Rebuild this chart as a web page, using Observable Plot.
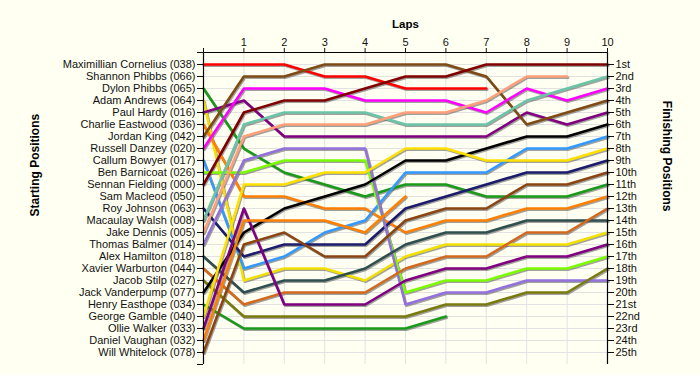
<!DOCTYPE html>
<html>
<head>
<meta charset="utf-8">
<script src="https://cdn.jsdelivr.net/npm/d3@7"></script>
<script src="https://cdn.jsdelivr.net/npm/@observablehq/plot@0.6"></script>
<style>
  html, body { margin: 0; padding: 0; background: #FFFFF2; }
</style>
</head>
<body>
<div id="chart"></div>
<script>
const drivers = [
  "Maximillian Cornelius (038)", "Shannon Phibbs (066)", "Dylon Phibbs (065)", "Adam Andrews (064)",
  "Paul Hardy (016)", "Charlie Eastwood (036)", "Jordan King (042)", "Russell Danzey (020)",
  "Callum Bowyer (017)", "Ben Barnicoat (026)", "Sennan Fielding (000)", "Sam Macleod (050)",
  "Roy Johnson (063)", "Macaulay Walsh (008)", "Jake Dennis (005)", "Thomas Balmer (014)",
  "Alex Hamilton (018)", "Xavier Warburton (044)", "Jacob Stilp (027)", "Jack Vanderpump (077)",
  "Henry Easthope (034)", "George Gamble (040)", "Ollie Walker (033)", "Daniel Vaughan (032)",
  "Will Whitelock (078)"
];

const colors = [
  "#FF0000", "#999999", "#1A9A1A", "#F2E000",
  "#800080", "#FF8000", "#7F4A14", "#FF00FF",
  "#3399FF", "#7CFC00", "#800000", "#999999",
  "#1C1C6C", "#6CC4A8", "#FFA07A", "#9370DB",
  "#2F4F4F", "#D2691E", "#7A7A10", "#000000",
  "#1A9A1A", "#FFE000", "#800080", "#FF8000",
  "#8B4513"
];

// position at lap 0..10 for each driver (in starting order); shorter = retired
const positions = [
  [1, 1, 1, 2, 2, 3, 3, 3],
  [],
  [3, 8, 10, 11, 12, 11, 11, 12, 12, 12, 11],
  [4, 19, 18, 18, 19, 17, 16, 16, 16, 16, 15],
  [5, 4, 7, 7, 7, 7, 7, 7, 5, 6, 5],
  [6, 12, 12, 13, 13, 15, 14, 14, 13, 13, 12],
  [7, 2, 2, 1, 1, 1, 1, 2, 6, 5, 4],
  [8, 3, 3, 3, 4, 4, 4, 5, 3, 4, 3],
  [9, 18, 17, 15, 14, 10, 10, 10, 8, 8, 7],
  [10, 10, 9, 9, 9, 20, 19, 19, 18, 18, 17],
  [11, 5, 4, 4, 3, 2, 2, 1, 1, 1, 1],
  [],
  [13, 17, 16, 16, 16, 13, 12, 11, 10, 10, 9],
  [14, 6, 5, 5, 5, 6, 6, 6, 4, 3, 2],
  [15, 7, 6, 6, 6, 5, 5, 4, 2, 2],
  [16, 9, 8, 8, 8, 21, 20, 20, 19, 19, 19],
  [17, 20, 19, 19, 18, 16, 15, 15, 14, 14, 14],
  [18, 21, 20, 20, 20, 18, 17, 17, 15, 15, 13],
  [19, 22, 22, 22, 22, 22, 21, 21, 20, 20, 18],
  [20, 15, 13, 12, 11, 9, 9, 8, 7, 7, 6],
  [21, 23, 23, 23, 23, 23, 22],
  [22, 11, 11, 10, 10, 8, 8, 9, 9, 9, 8],
  [23, 13, 21, 21, 21, 19, 18, 18, 17, 17, 16],
  [24, 14, 14, 14, 15, 12],
  [25, 16, 15, 17, 17, 14, 13, 13, 11, 11, 10]
];

const lapLabels = ["1", "2", "3", "4", "5", "6", "7", "8", "9", "10"];
const finishLabels = [
  "1st", "2nd", "3rd", "4th", "5th", "6th", "7th", "8th", "9th", "10th",
  "11th", "12th", "13th", "14th", "15th", "16th", "17th", "18th", "19th", "20th",
  "21st", "22nd", "23rd", "24th", "25th"
];

const rows = [];
positions.forEach((ps, i) => {
  ps.forEach((p, lap) => rows.push({driver: drivers[i], color: colors[i], lap, pos: p}));
});

const posTicks = d3.range(0, 27);
const lapTicks = d3.range(0, 11);

const chart = Plot.plot({
  width: 700,
  height: 375,
  marginTop: 52,
  marginBottom: 11,
  marginLeft: 203,
  marginRight: 93,
  style: {background: "#FFFFF2", fontFamily: "Liberation Sans, Arial, sans-serif", fontSize: "11px", color: "#111"},
  x: {domain: [0, 10]},
  y: {domain: [0, 26], reverse: true},
  color: {type: "identity"},
  marks: [
    Plot.gridX(d3.range(1, 10), {stroke: "#E2E2E2", strokeOpacity: 1}),
    Plot.gridY(d3.range(1, 26), {stroke: "#E2E2E2", strokeOpacity: 1}),
    Plot.line(rows, {x: "lap", y: "pos", z: "driver", stroke: "#555", strokeOpacity: 0.55, strokeWidth: 2.6, dx: 1, dy: 1.2}),
    Plot.line(rows, {x: "lap", y: "pos", z: "driver", stroke: "color", strokeWidth: 2.6}),
    Plot.ruleX([0, 10], {stroke: "#000", strokeWidth: 1.2}),
    Plot.ruleY([0], {stroke: "#000", strokeWidth: 1.2}),
    Plot.axisX({anchor: "top", ticks: lapTicks, tickSize: 5, tickPadding: 2, tickFormat: l => l === 0 ? "" : lapLabels[l - 1], label: null, fontSize: 11}),
    Plot.axisY({anchor: "left", ticks: posTicks, tickSize: 6, tickPadding: 2, tickFormat: p => (p >= 1 && p <= 25) ? drivers[p - 1] : "", label: null, fontSize: 11}),
    Plot.axisY({anchor: "right", ticks: d3.range(1, 26), tickSize: 6, tickPadding: 2, tickFormat: p => finishLabels[p - 1], label: null, fontSize: 11}),
    Plot.text(["Laps"], {frameAnchor: "top", dy: -33, fontWeight: "bold", fontSize: 11.5, fill: "#000"}),
    Plot.text(["Starting Positions"], {frameAnchor: "left", dx: -168, dy: 8, rotate: -90, fontWeight: "bold", fontSize: 12, fill: "#000"}),
    Plot.text(["Finishing Positions"], {frameAnchor: "right", dx: 59, dy: 3, rotate: 90, fontWeight: "bold", fontSize: 12, fill: "#000"})
  ]
});

document.getElementById("chart").appendChild(chart);
</script>
</body>
</html>
